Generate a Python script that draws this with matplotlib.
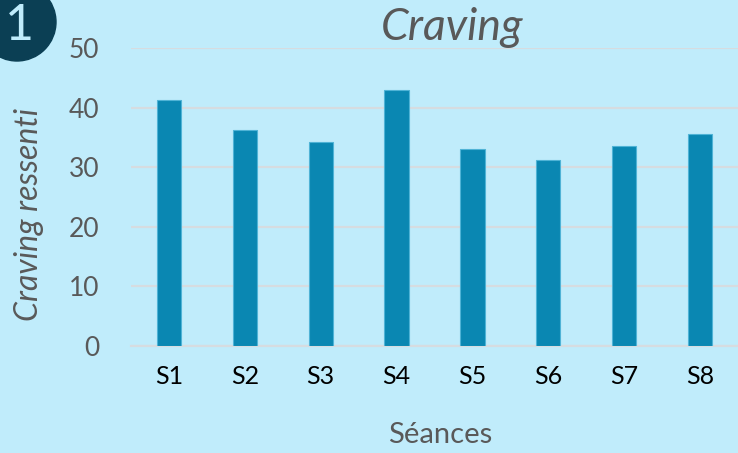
import matplotlib.pyplot as plt
import matplotlib
from matplotlib.patches import Ellipse
import numpy as np

matplotlib.rcParams['font.family'] = ['Lato', 'DejaVu Sans']

# Data
seances = ['S1', 'S2', 'S3', 'S4', 'S5', 'S6', 'S7', 'S8']
craving = [41.3, 36.2, 34.3, 43.0, 33.1, 31.2, 33.6, 35.6]

bg = '#C0ECFB'
bar_color = '#0A87B2'
grey = '#595959'

fig = plt.figure(figsize=(7.38, 4.53), dpi=100, facecolor=bg)
ax = fig.add_axes([131 / 738, 107 / 453, 607 / 738, 298 / 453])
ax.set_facecolor(bg)

x = np.arange(len(seances))
ax.bar(x, craving, width=0.32, color=bar_color, edgecolor='#4FB3D6',
       linewidth=0.8, zorder=3)

ax.set_xlim(-0.5, len(seances) - 0.5)
ax.set_ylim(0, 50)
ax.set_yticks(range(0, 51, 10))
ax.set_xticks(x)
ax.set_xticklabels(seances)
ax.yaxis.grid(True, color='#D6DCE0', linewidth=1.6, zorder=0)
ax.set_axisbelow(True)
for s in ax.spines.values():
    s.set_visible(False)
ax.spines['bottom'].set_visible(True)
ax.spines['bottom'].set_color('#D6DCE0')
ax.spines['bottom'].set_linewidth(1.6)
ax.tick_params(axis='both', length=0)
ax.tick_params(axis='y', labelsize=19, labelcolor=grey, pad=23)
ax.tick_params(axis='x', labelsize=18, labelcolor='black', pad=14)

ax.set_ylabel('Craving ressenti', fontsize=23, style='italic', color=grey,
              va='center', ha='center')
ax.yaxis.set_label_coords(-102 / 607, 0.44)
ax.set_xlabel('Séances', fontsize=21, color=grey, va='center', ha='center')
ax.xaxis.set_label_coords(0.51, -89 / 298)

fig.text(452 / 738, 1 - 27 / 453, 'Craving', fontsize=32, style='italic',
         color=grey, ha='center', va='center')

# numbered badge in the corner
r = 39
fig.patches.append(Ellipse((17 / 738, 1 - 22 / 453), 2 * r / 738, 2 * r / 453,
                           transform=fig.transFigure, color='#0B3F54'))
fig.text(19 / 738, 1 - 26 / 453, '1', fontsize=36, color='#C0ECFB',
         ha='center', va='center')

plt.savefig('out.png', dpi=100, facecolor=bg)
